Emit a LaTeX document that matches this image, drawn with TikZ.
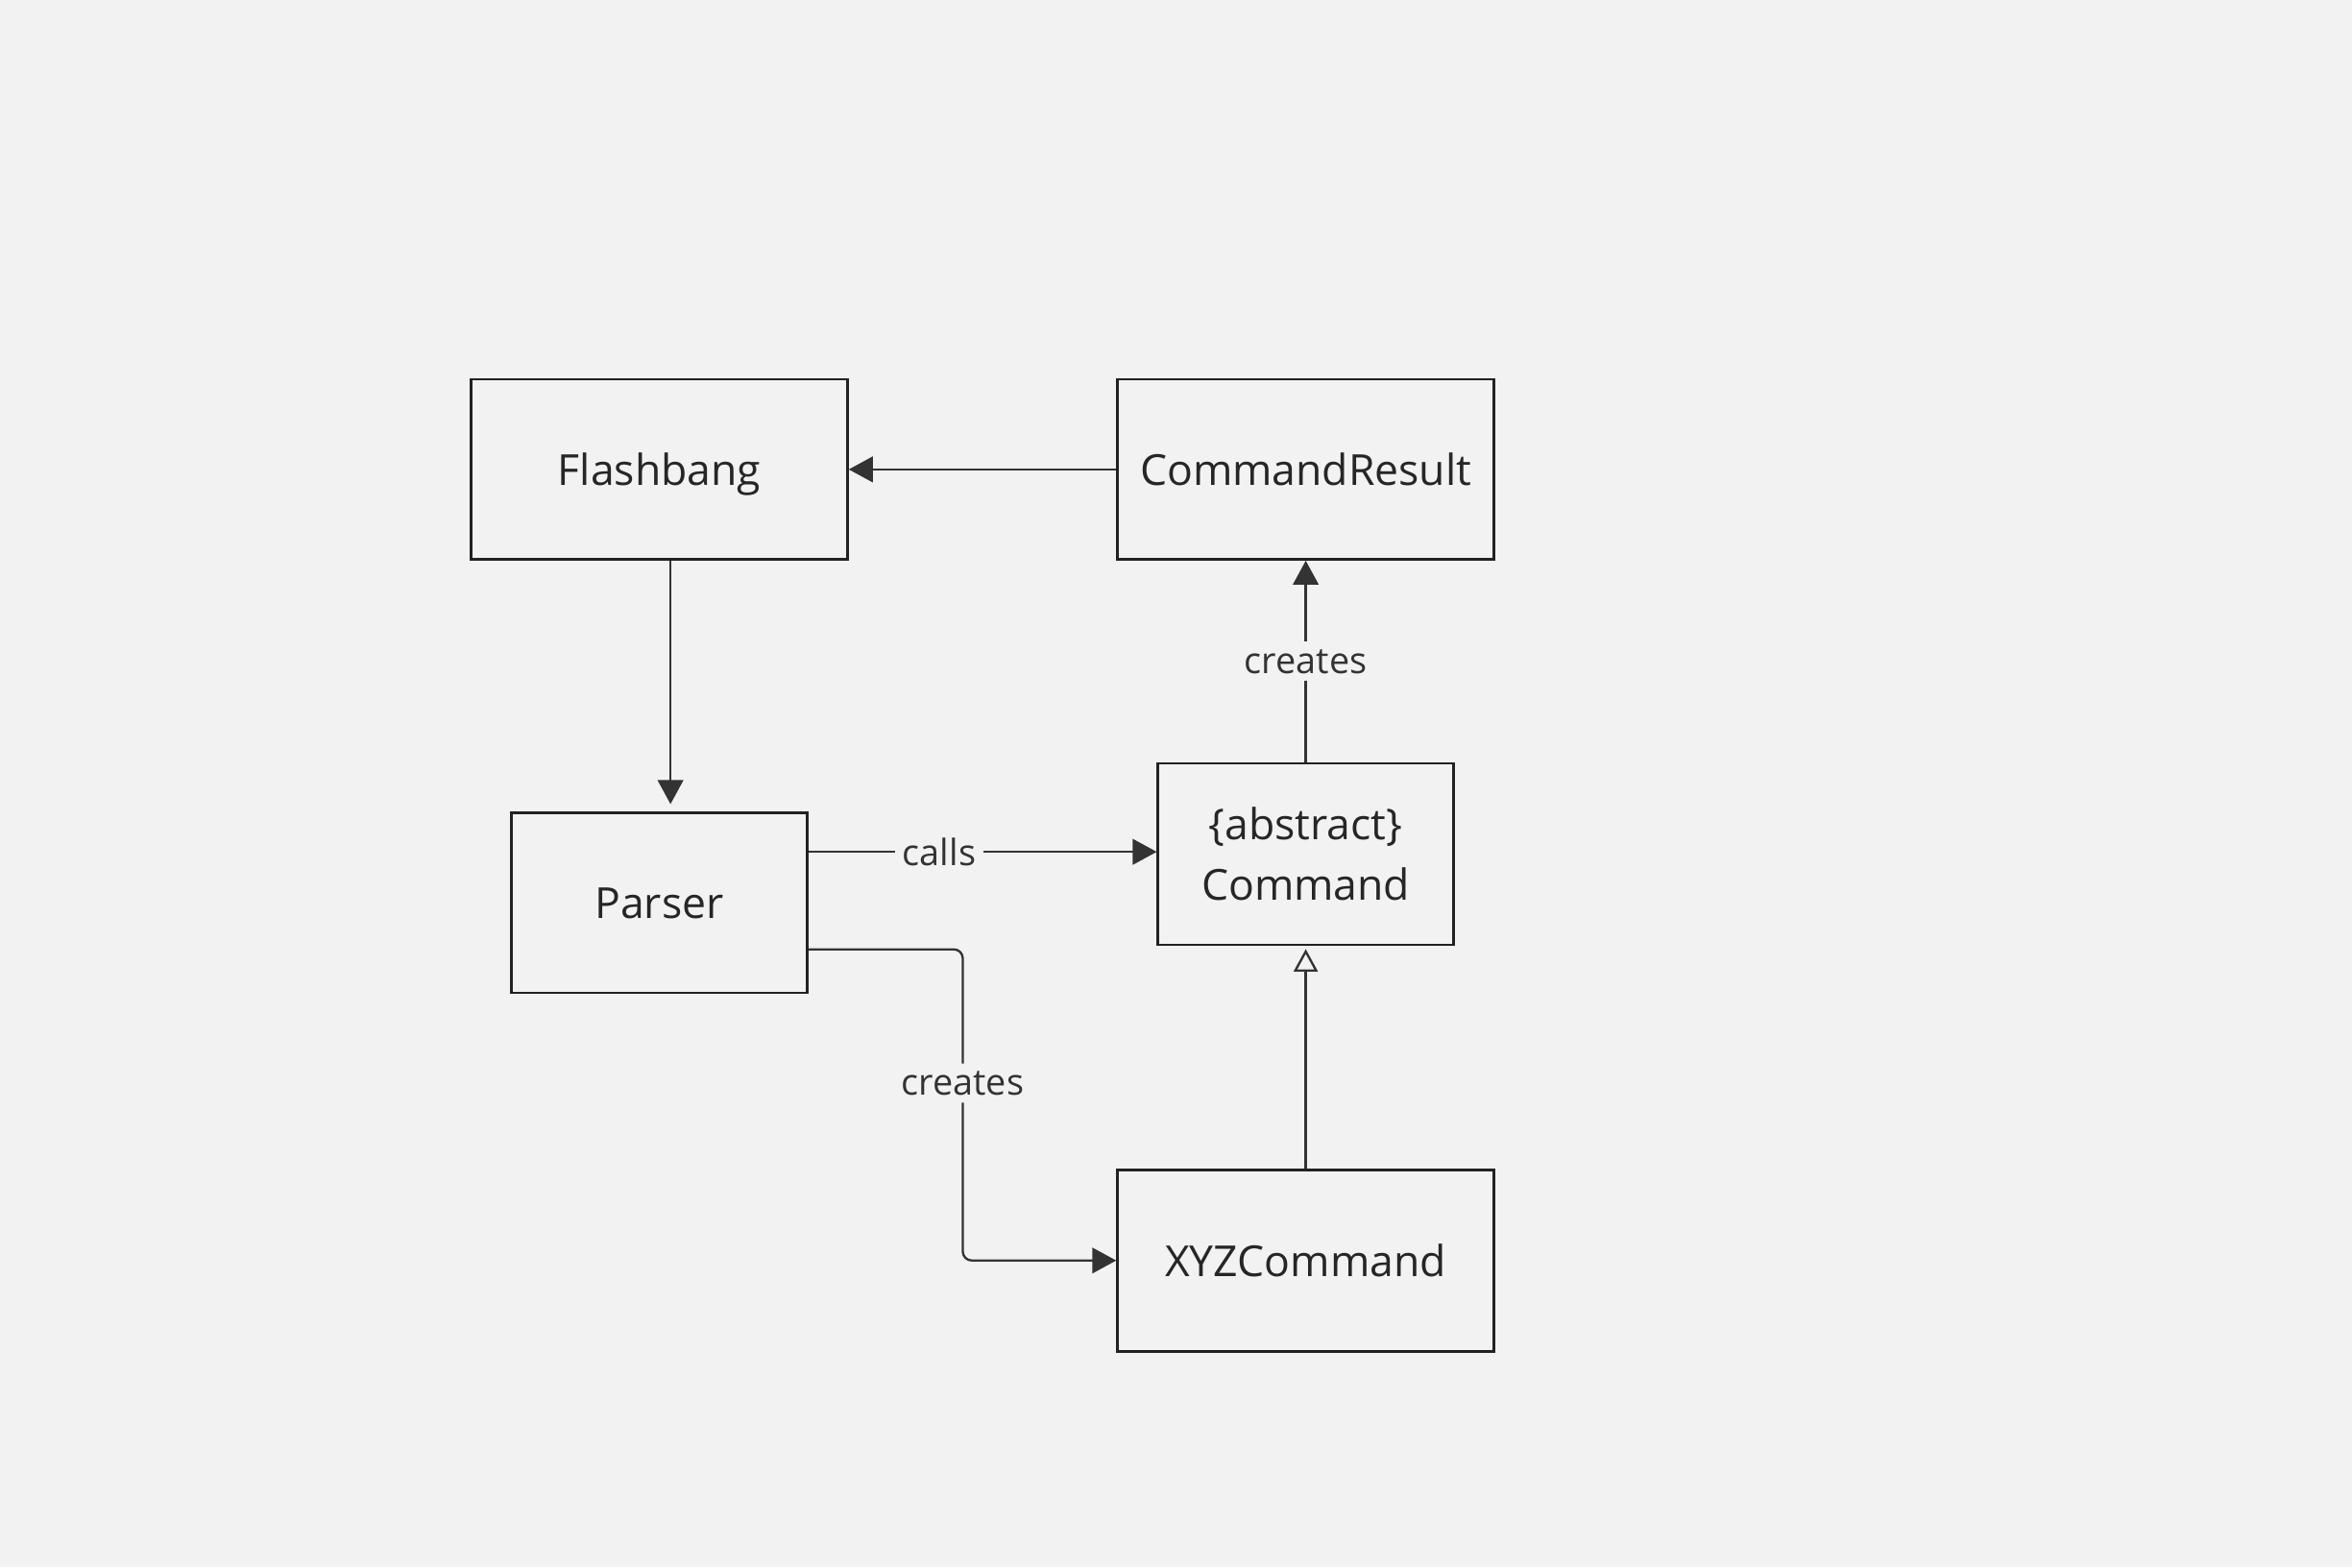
\documentclass[tikz,border=0pt]{standalone}
\usepackage{fontspec}
\setmainfont{Open Sans}
\usetikzlibrary{arrows.meta,calc}
\definecolor{bgc}{HTML}{F2F2F2}
\definecolor{boxc}{HTML}{222222}
\definecolor{linec}{HTML}{333333}
\definecolor{txtc}{HTML}{262626}
\begin{document}
\begin{tikzpicture}[x=0.5pt,y=-0.5pt,
  box/.style={draw=boxc,line width=0.85pt,fill=bgc,text=txtc,inner sep=0pt,
    font=\fontsize{14.25}{20}\selectfont,align=center},
  oneline/.style={text height=10.6pt,text depth=0.1pt},
  conn/.style={draw=linec,line width=0.75pt},
  fillarrow/.style={-{Triangle[length=8pt,width=8.5pt]}},
  openarrow/.style={-{Triangle[open,length=7.5pt,width=8pt,line width=0.75pt]}},
  lbl/.style={fill=bgc,text=linec,inner sep=2.5pt,font=\fontsize{12.1}{14}\selectfont}]
\fill[bgc] (0,0) rectangle (1568,1045);
\useasboundingbox (0,0) rectangle (1568,1045);
\node[box,oneline,minimum width=125.5pt,minimum height=60pt] (flash) at (439.5,313) {Flashbang};
\node[box,oneline,minimum width=125.5pt,minimum height=60pt] (cres) at (870.5,313) {CommandResult};
\node[box,oneline,minimum width=98.5pt,minimum height=60pt] (parser) at (439.5,602) {Parser};
\node[box,minimum width=98.5pt,minimum height=60.5pt] (cmd) at (870.5,569.5) {\{abstract\}\\Command};
\node[box,oneline,minimum width=125.5pt,minimum height=60.5pt] (xyz) at (870.5,840.5) {XYZCommand};
% CommandResult -> Flashbang
\draw[conn,fillarrow] (cres.west) -- (flash.east);
% Flashbang -> Parser
\draw[conn,fillarrow,shorten >=2.5pt] ([xshift=3.75pt]flash.south) -- ([xshift=3.75pt]parser.north);
% Parser -> Command (calls)
\draw[conn,fillarrow] ([yshift=17pt]parser.east) -- ([yshift=17pt]parser.east -| cmd.west)
  node[lbl,pos=0.376] {calls};
% Parser -> XYZCommand (creates)
\draw[conn,fillarrow,rounded corners=3pt] ([yshift=-15.5pt]parser.east) -- ++(51.5pt,0) |- (xyz.west)
  node[lbl,pos=0.215] {creates};
% Command -> CommandResult (creates)
\draw[conn,fillarrow] (cmd.north) -- (cres.south) node[lbl,midway] {creates};
% XYZCommand -> Command (inheritance)
\draw[conn,openarrow,shorten >=1pt] (xyz.north) -- (cmd.south);
\end{tikzpicture}
\end{document}
